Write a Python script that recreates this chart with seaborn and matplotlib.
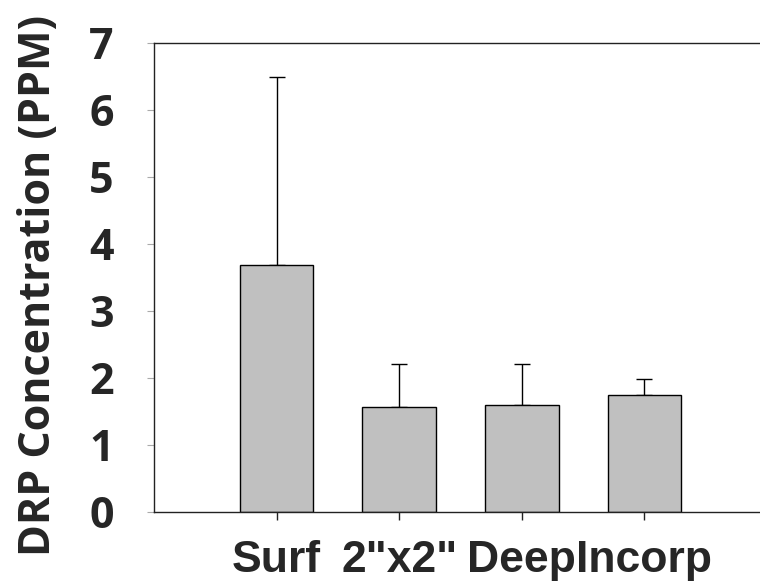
import matplotlib
matplotlib.use("Agg")
import matplotlib.pyplot as plt
import seaborn as sns
import pandas as pd

# values
treatments = ['Surf', '2"x2"', 'Deep', 'Incorp']
drp_mean = [3.68, 1.57, 1.59, 1.75]
drp_err = [2.80, 0.63, 0.61, 0.24]

df = pd.DataFrame({'Treatment': treatments, 'DRP': drp_mean})

sns.set_theme(style='ticks')

fig = plt.figure(figsize=(7.6, 5.85), dpi=100)
ax = fig.add_axes([154 / 760, 73 / 585, 613 / 760, 469.5 / 585])

sns.barplot(data=df, x='Treatment', y='DRP', color='#c0c0c0', width=0.6,
            edgecolor='black', linewidth=1.0, saturation=1, ax=ax, zorder=2)
ax.errorbar(range(len(treatments)), drp_mean, yerr=[[0] * len(drp_err), drp_err],
            fmt='none', ecolor='black', elinewidth=1.0, capsize=6, capthick=1.0, zorder=1)

ax.set_xlim(-1, 4)
ax.set_ylim(0, 7)
ax.set_yticks(range(0, 8))

for s in ax.spines.values():
    s.set_color('#222222')
    s.set_linewidth(1.0)

ax.tick_params(axis='y', length=5, width=0.8, color='#aaaaaa', pad=24)
ax.tick_params(axis='x', length=6, width=1.0, color='#222222', pad=14)

for t in ax.get_yticklabels():
    t.set_fontfamily('Open Sans')
    t.set_fontweight('bold')
    t.set_fontsize(31)
for t in ax.get_xticklabels():
    t.set_fontfamily('Liberation Sans')
    t.set_fontweight('bold')
    t.set_fontsize(32)

ax.set_xlabel('')
ax.set_ylabel('DRP Concentration (PPM)', fontfamily='Open Sans', fontweight='bold',
              fontsize=31)
ax.yaxis.set_label_coords(-0.153, 0.483)

fig.savefig('out.png', dpi=100)
